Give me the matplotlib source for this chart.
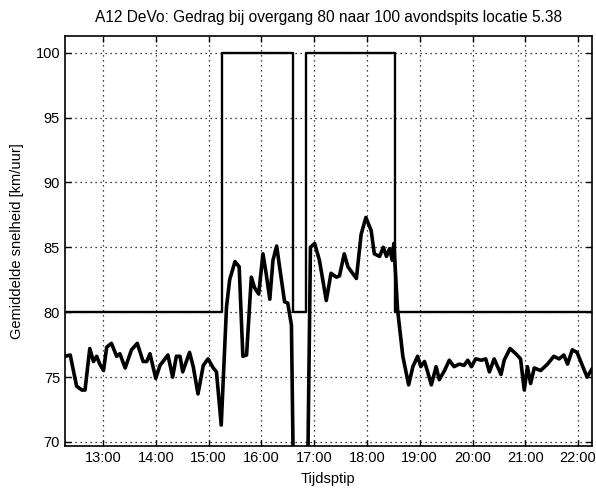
import numpy as np
import matplotlib
matplotlib.use('Agg')
import matplotlib.pyplot as plt

plt.rcParams['font.family'] = ['Liberation Sans', 'DejaVu Sans']

# gemeten snelheid (tijd in decimale uren, km/uur)
tijd = [12.28, 12.38, 12.50, 12.60, 12.66, 12.75, 12.82, 12.88, 12.94, 13.01,
        13.07, 13.16, 13.26, 13.32, 13.42, 13.54, 13.65, 13.76, 13.83, 13.89,
        14.00, 14.08, 14.23, 14.32, 14.39, 14.46, 14.51, 14.64, 14.71, 14.80,
        14.90, 14.99, 15.09, 15.15, 15.24, 15.34, 15.40, 15.50, 15.58, 15.65,
        15.72, 15.81, 15.87, 15.95, 16.03, 16.09, 16.16, 16.22, 16.29, 16.38,
        16.44, 16.50, 16.57, 16.63, 16.72, 16.84, 16.93, 17.01, 17.10, 17.23,
        17.32, 17.42, 17.48, 17.57, 17.64, 17.80, 17.89, 17.98, 18.08, 18.14,
        18.24, 18.31, 18.37, 18.43, 18.48, 18.51, 18.58, 18.68, 18.79, 18.87,
        18.96, 19.02, 19.09, 19.15, 19.22, 19.31, 19.37, 19.47, 19.56, 19.65,
        19.75, 19.84, 19.91, 19.98, 20.06, 20.17, 20.25, 20.32, 20.41, 20.54,
        20.60, 20.71, 20.82, 20.91, 20.98, 21.04, 21.10, 21.17, 21.29, 21.42,
        21.54, 21.64, 21.73, 21.80, 21.89, 21.98, 22.08, 22.17, 22.26]
snelheid = [76.6, 76.7, 74.3, 74.0, 74.0, 77.2, 76.2, 76.6, 76.0, 75.5,
            77.3, 77.6, 76.6, 76.8, 75.7, 77.1, 77.6, 76.2, 76.2, 76.8,
            74.9, 75.9, 76.7, 75.0, 76.6, 76.6, 75.4, 76.9, 75.8, 73.7,
            75.9, 76.4, 75.7, 75.4, 71.3, 80.4, 82.5, 83.9, 83.5, 76.6,
            76.7, 82.7, 81.9, 81.4, 84.5, 83.0, 81.0, 84.0, 85.1, 82.5,
            80.8, 80.7, 79.0, 60.0, 50.0, 55.0, 85.0, 85.3, 84.0, 80.9,
            83.0, 82.7, 82.8, 84.5, 83.5, 82.6, 86.0, 87.3, 86.3, 84.5,
            84.3, 85.0, 84.3, 84.9, 84.0, 85.3, 80.2, 76.6, 74.4, 75.8,
            76.6, 75.8, 76.2, 75.4, 74.4, 75.8, 74.8, 75.5, 76.3, 75.8,
            76.0, 75.9, 76.3, 75.8, 76.4, 76.3, 76.4, 75.4, 76.4, 75.2,
            76.3, 77.2, 76.8, 76.4, 74.0, 75.8, 74.5, 75.7, 75.5, 76.0,
            76.6, 76.4, 76.7, 76.0, 77.1, 76.9, 75.9, 75.0, 75.6]

# maximumsnelheid op het traject
limiet_tijd = [12.28, 15.26, 16.60, 16.85, 18.54, 22.26]
limiet = [80, 100, 80, 100, 80, 80]

uren = [13, 14, 15, 16, 17, 18, 19, 20, 21, 22]
uur_labels = ['%d:00' % u for u in uren]

fig = plt.figure(figsize=(5.96, 4.91), dpi=100)
ax = fig.add_axes([0.109, 0.092, 0.884, 0.835])

ax.plot(limiet_tijd, limiet, color='black', lw=1.7, drawstyle='steps-post')
ax.plot(tijd, snelheid, color='black', lw=2.6)

ax.set_xlim(12.28, 22.26)
ax.set_ylim(69.7, 101.3)
ax.set_xticks(uren)
ax.set_xticklabels(uur_labels)
ax.set_yticks(np.arange(70, 101, 5))
ax.grid(True, color='black', linestyle=(0, (1, 3)), lw=0.9)
ax.tick_params(direction='in', top=True, right=True, length=4, labelsize=10.5,
               width=1)
for s in ax.spines.values():
    s.set_linewidth(1.2)

ax.set_title('A12 DeVo: Gedrag bij overgang 80 naar 100 avondspits locatie 5.38',
             fontsize=11.2, pad=10)
ax.set_xlabel('Tijdsptip', fontsize=10.5, labelpad=5)
ax.set_ylabel('Gemiddelde snelheid [km/uur]', fontsize=10.5, labelpad=8)

fig.savefig('out.png', dpi=100)
